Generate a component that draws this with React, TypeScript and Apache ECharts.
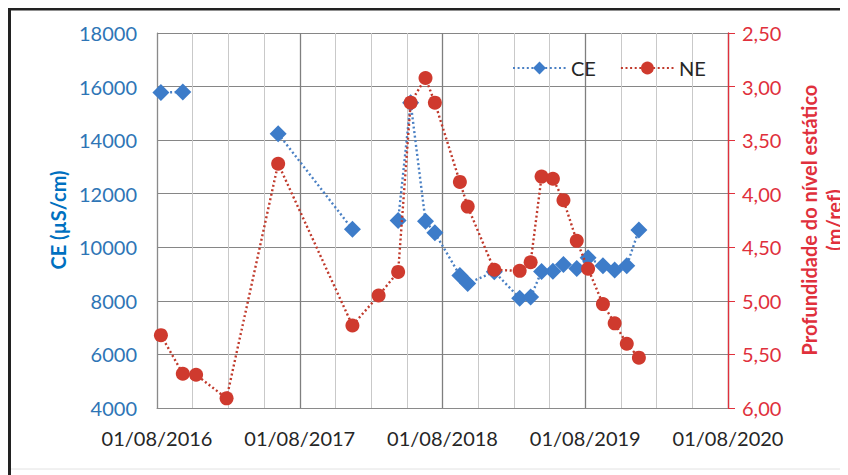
import React, { useEffect, useRef } from "react";
import * as echarts from "echarts";

// ---- data ----
const axisStartDate = "2016-08-01";
const axisEndDate = "2020-08-01";
const xTickLabels = ["01/08/2016", "01/08/2017", "01/08/2018", "01/08/2019", "01/08/2020"];

const sampleDates = [
  "2016-08-11", "2016-10-06", "2016-11-09", "2017-01-26", "2017-06-07",
  "2017-12-14", "2018-02-19", "2018-04-10", "2018-05-12", "2018-06-19",
  "2018-07-13", "2018-09-15", "2018-10-05", "2018-12-12", "2019-02-15",
  "2019-03-15", "2019-04-12", "2019-05-11", "2019-06-07", "2019-07-11",
  "2019-08-09", "2019-09-16", "2019-10-16", "2019-11-16", "2019-12-17",
];

const ceValues: (number | null)[] = [
  15775, 15800, null, null, 14240,
  10675, null, 11000, 15400, 10975,
  10540, 8950, 8650, 9090, 8100,
  8140, 9100, 9110, 9360, 9210,
  9610, 9310, 9150, 9310, 10650,
];

const neValues: (number | null)[] = [
  5.32, 5.68, 5.69, 5.91, 3.72,
  5.23, 4.95, 4.73, 3.15, 2.92,
  3.15, 3.89, 4.12, 4.71, 4.72,
  4.64, 3.84, 3.86, 4.06, 4.44,
  4.70, 5.03, 5.21, 5.40, 5.53,
];

const ceTicks = [4000, 6000, 8000, 10000, 12000, 14000, 16000, 18000];
const neTicks = [2.5, 3.0, 3.5, 4.0, 4.5, 5.0, 5.5, 6.0];

const seriesNames = ["CE", "NE"];
const leftAxisTitle = "CE (µS/cm)";
const rightAxisTitle = "Profundidade do nível estático\n(m/ref)";

// ---- helpers ----
const DAY = 86400000;
const dayOf = (s: string) => (Date.parse(s) - Date.parse(axisStartDate)) / DAY;

const FONT = "Lato, 'Open Sans', sans-serif";
const BLUE = "#3d7cc9";
const RED = "#cf3a2e";

export default function App() {
  const ref = useRef<HTMLDivElement>(null);

  useEffect(() => {
    if (!ref.current) return;
    const chart = echarts.init(ref.current, undefined, { renderer: "svg" });

    const xMax = dayOf(axisEndDate);
    const xInterval = xMax / (xTickLabels.length - 1);

    const ceData = sampleDates.map((d, i) => [dayOf(d), ceValues[i] == null ? "-" : ceValues[i]]);
    const neData = sampleDates.map((d, i) => [dayOf(d), neValues[i] == null ? "-" : neValues[i]]);

    chart.setOption({
      animation: false,
      backgroundColor: "#ffffff",
      textStyle: { fontFamily: FONT },
      grid: { left: 149, right: 120, top: 25, bottom: 67, containLabel: false },
      legend: {
        data: seriesNames,
        left: 499,
        top: 45,
        itemWidth: 53,
        itemHeight: 16,
        itemGap: 24,
        textStyle: { fontSize: 20, color: "#262626", fontFamily: FONT },
      },
      xAxis: {
        type: "value",
        min: 0,
        max: xMax,
        interval: xInterval,
        axisLine: { show: true, lineStyle: { color: "#8a8a8a", width: 1 } },
        axisTick: { show: false },
        minorTick: { show: false, splitNumber: 4 },
        splitLine: { show: true, lineStyle: { color: "#7f7f7f", width: 1.3 } },
        minorSplitLine: { show: true, lineStyle: { color: "#c9c9c9", width: 1 } },
        axisLabel: {
          margin: 20,
          fontSize: 20,
          color: "#262626",
          fontFamily: FONT,
          showMinLabel: true,
          showMaxLabel: true,
          formatter: (v: number) => xTickLabels[Math.round(v / xInterval)] ?? "",
        },
      },
      yAxis: [
        {
          type: "value",
          position: "left",
          min: ceTicks[0],
          max: ceTicks[ceTicks.length - 1],
          interval: ceTicks[1] - ceTicks[0],
          axisLine: { show: true, lineStyle: { color: "#8a8a8a", width: 1 } },
          axisTick: { show: false },
          splitLine: { show: true, lineStyle: { color: "#868686", width: 1 } },
          axisLabel: {
            margin: 20,
            fontSize: 20,
            color: "#2e75b6",
            fontFamily: FONT,
            formatter: (v: number) => String(v),
          },
        },
        {
          type: "value",
          position: "right",
          inverse: true,
          min: neTicks[0],
          max: neTicks[neTicks.length - 1],
          interval: neTicks[1] - neTicks[0],
          axisLine: { show: true, lineStyle: { color: "#e0303c", width: 1.3 } },
          axisTick: { show: true, length: 7, inside: false, lineStyle: { color: "#e0303c" } },
          splitLine: { show: false },
          axisLabel: {
            margin: 14,
            fontSize: 20,
            color: "#e0303c",
            fontFamily: FONT,
            formatter: (v: number) => v.toFixed(2).replace(".", ","),
          },
        },
      ],
      series: [
        {
          name: seriesNames[0],
          type: "line",
          yAxisIndex: 0,
          data: ceData,
          connectNulls: false,
          symbol: "diamond",
          symbolSize: 17,
          itemStyle: { color: BLUE },
          lineStyle: { color: "#4a80c4", width: 2.4, type: [2, 2.6] },
          z: 3,
        },
        {
          name: seriesNames[1],
          type: "line",
          yAxisIndex: 1,
          data: neData,
          connectNulls: false,
          symbol: "circle",
          symbolSize: 14,
          itemStyle: { color: RED },
          lineStyle: { color: "#c0392b", width: 2.4, type: [2, 2.6] },
          z: 4,
        },
      ],
      graphic: [
        {
          type: "polyline",
          shape: { points: [[1.5, 467], [1.5, 1], [845, 1]] },
          style: { stroke: "#222222", lineWidth: 3, fill: null },
          silent: true,
        },
        {
          type: "line",
          shape: { x1: 3, y1: 461, x2: 840, y2: 461 },
          style: { stroke: "#e2e2e2", lineWidth: 1 },
          silent: true,
        },
        {
          type: "text",
          x: 50,
          y: 212,
          rotation: Math.PI / 2,
          style: {
            text: leftAxisTitle,
            align: "center",
            verticalAlign: "middle",
            font: "bold 20px " + FONT,
            fill: "#0070c0",
          },
        },
        {
          type: "text",
          x: 813,
          y: 212,
          rotation: Math.PI / 2,
          style: {
            text: rightAxisTitle,
            align: "center",
            verticalAlign: "middle",
            lineHeight: 25,
            font: "bold 20px " + FONT,
            fill: "#e0303c",
          },
        },
      ],
    });

    return () => chart.dispose();
  }, []);

  return <div ref={ref} style={{ width: 840, height: 467 }} />;
}
